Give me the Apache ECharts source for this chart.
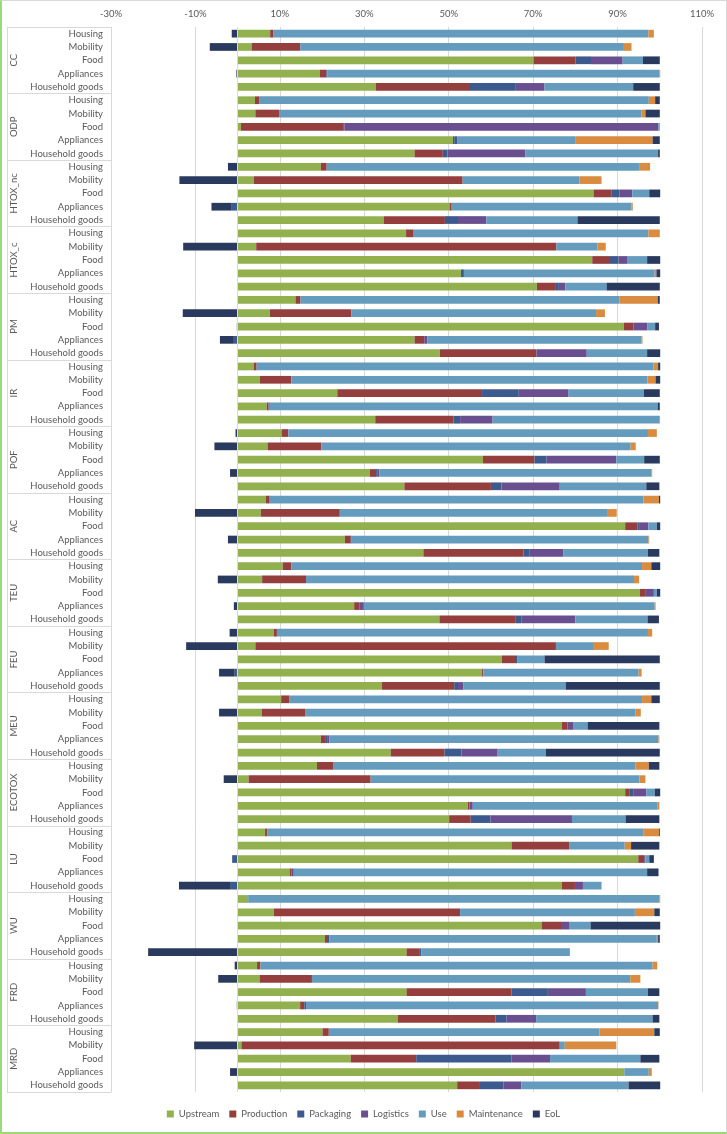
<!DOCTYPE html>
<html>
<head>
<meta charset="utf-8">
<script src="https://cdn.jsdelivr.net/npm/echarts@6/dist/echarts.min.js"></script>
<style>
html,body{margin:0;padding:0;background:#fff;}
#wrap{position:relative;width:727px;height:1134px;}
#chart{position:absolute;left:0;top:0;width:727px;height:1134px;}
#frame{position:absolute;left:0;top:0;width:727px;height:1134px;box-sizing:border-box;
  border-top:1px solid #D9D9D9;border-right:1px solid #D9D9D9;
  border-left:2px solid #9ADB78;border-bottom:2px solid #9ADB78;pointer-events:none;}
</style>
</head>
<body>
<div id="wrap"><div id="chart"></div><div id="frame"></div></div>
<script>
const groups = ['CC','ODP','HTOX_nc','HTOX_c','PM','IR','POF','AC','TEU','FEU','MEU','ECOTOX','LU','WU','FRD','MRD'];
const subcats = ['Housing','Mobility','Food','Appliances','Household goods'];
const seriesNames = ['Upstream','Production','Packaging','Logistics','Use','Maintenance','EoL'];
const xTicks = {min:-30, max:110, step:20};

// values in %, per group: Housing, Mobility, Food, Appliances, Household goods
const upstream = [
  7.7, 3.3, 70.1, 19.5, 32.7,
  4.1, 4.2, 0.8, 51.0, 41.9,
  19.7, 3.8, 84.3, 50.2, 34.6,
  39.9, 4.4, 84.0, 52.9, 70.9,
  13.7, 7.6, 91.5, 41.9, 47.9,
  3.8, 5.3, 23.6, 6.9, 32.6,
  10.4, 7.1, 58.1, 31.3, 39.5,
  6.7, 5.5, 91.8, 25.4, 44.0,
  10.7, 5.8, 95.3, 27.6, 47.8,
  8.6, 4.2, 62.6, 57.9, 34.2,
  10.3, 5.7, 76.8, 19.7, 36.3,
  18.8, 2.6, 91.8, 54.5, 50.1,
  6.5, 64.9, 94.9, 12.3, 76.8,
  2.4, 8.6, 72.0, 20.7, 40.0,
  4.6, 5.2, 40.0, 14.8, 37.9,
  20.1, 0.9, 26.8, 91.6, 52.0
];
const production = [
  0.8, 11.5, 9.9, 1.5, 22.1,
  1.1, 5.6, 24.2, 0.3, 6.7,
  1.4, 49.5, 4.2, 0.5, 14.5,
  1.8, 71.1, 4.2, 0, 4.3,
  1.2, 19.3, 2.3, 2.3, 22.9,
  0.7, 7.4, 34.3, 0.4, 18.5,
  1.6, 12.7, 12.2, 1.5, 20.5,
  0.9, 18.7, 2.9, 1.4, 23.7,
  2.0, 10.4, 1.4, 1.2, 18.1,
  0.7, 71.2, 3.1, 0.3, 17.1,
  2.0, 10.4, 1.3, 1.2, 12.7,
  3.8, 28.9, 1.1, 0.4, 5.1,
  0.5, 13.6, 1.4, 0.5, 3.1,
  0.1, 44.1, 4.6, 0.7, 3.0,
  0.8, 12.4, 24.9, 1.0, 23.2,
  1.5, 75.4, 15.5, 0, 5.4
];
const packaging = [
  0, 0, 3.7, 0.2, 11.1,
  0, 0, 0.3, 0.8, 1.1,
  0, 0, 2.0, -1.4, 3.1,
  0, 0, 2.0, 0.7, 0.9,
  0, 0, -0.2, -0.9, 0,
  0, 0, 8.7, 0, 1.6,
  0, 0, 2.9, 0.4, 2.5,
  0, 0, 0.4, 0.2, 1.5,
  0, 0, 0, 0, 1.4,
  0, 0, 0.5, -0.7, 0.9,
  0, 0, 0, 0.3, 4.0,
  0, 0, 0.8, 0, 4.7,
  0, 0, -1.3, 0, -1.8,
  0, 0, 0, 0.3, 0.5,
  0, 0, 8.4, 0.4, 2.6,
  0, 0, 22.6, 0, 5.6
];
const logistics = [
  0, 0, 7.5, 0, 6.8,
  0, 0, 74.3, 0, 18.5,
  0, 0, 3.0, 0, 6.7,
  0, 0, 2.2, 0, 1.5,
  0, 0, 3.3, 0.7, 11.9,
  0, 0, 11.8, 0.3, 7.7,
  0, 0, 16.5, 0.4, 13.8,
  0, 0, 2.2, 0, 8.0,
  0, 0, 1.9, 1.1, 12.7,
  0, 0, 0, 0, 1.3,
  0, 0, 1.5, 0.5, 8.6,
  0, 0, 3.1, 0.8, 19.3,
  0, 0, 0.3, 0.5, 1.9,
  0, 0, 1.9, 0, 0,
  0, 0, 9.2, 0, 7.0,
  0, 0, 9.1, 0, 4.2
];
const use = [
  88.8, 76.7, 4.8, 78.7, 21.0,
  92.2, 85.8, 0.4, 28.0, 31.4,
  74.0, 27.7, 4.0, 42.6, 21.6,
  55.6, 9.7, 4.6, 45.2, 9.8,
  75.5, 58.0, 1.8, 50.8, 14.3,
  94.0, 84.4, 17.8, 91.9, 39.6,
  85.2, 73.3, 6.6, 64.4, 20.5,
  88.5, 63.5, 2.0, 70.3, 20.0,
  83.1, 77.7, 0.7, 68.9, 17.1,
  87.9, 9.0, 6.5, 36.8, 24.2,
  83.5, 78.1, 3.3, 78.0, 11.4,
  71.6, 63.7, 2.0, 43.8, 12.7,
  89.2, 13.2, 0.9, 83.7, 4.4,
  97.4, 41.4, 5.1, 77.6, 35.2,
  92.9, 75.4, 14.7, 83.4, 27.6,
  64.1, 1.2, 21.4, 5.8, 25.4
];
const maintenance = [
  1.3, 1.8, 0, 0.2, 0,
  1.5, 1.0, 0, 18.2, 0,
  2.6, 5.2, 0, 0.3, 0,
  2.7, 2.0, 0, 0.4, 0,
  9.1, 2.1, 0, 0.2, 0,
  1.1, 1.9, 0, 0, 0,
  2.1, 1.2, 0, 0.2, 0,
  3.7, 2.1, 0, 0.2, 0,
  2.2, 1.2, 0, 0.2, 0,
  1.0, 3.5, 0, 0.7, 0,
  2.2, 1.3, 0, 0.2, 0,
  3.2, 1.4, 0, 0.4, 0,
  3.6, 1.5, 0, 0, 0,
  0.2, 4.6, 0, 0.3, 0,
  1.1, 2.4, 0, 0.1, 0,
  13.0, 12.2, 0, 0.7, 0
];
const eol = [
  -1.4, -6.6, 4.0, -0.3, 6.3,
  1.1, 3.4, 0, 1.7, 0.4,
  -2.3, -13.8, 2.6, -4.8, 19.5,
  0, -12.9, 3.1, 0.9, 12.6,
  0.5, -13.0, 0.9, -3.3, 3.1,
  0.5, 1.1, 3.8, 0.5, 0,
  -0.5, -5.5, 3.7, -1.8, 3.1,
  0.3, -10.1, 0.8, -2.3, 2.7,
  2.1, -4.7, 0.8, -0.9, 2.7,
  -1.9, -12.2, 27.3, -3.7, 22.3,
  2.0, -4.4, 17.0, 0, 27.0,
  2.5, -3.3, 1.3, 0, 8.0,
  0.2, 6.7, 1.1, 2.7, -12.1,
  0, 1.3, 16.5, 0.4, -21.2,
  -0.7, -4.6, 2.7, -0.2, 1.6,
  1.3, -10.3, 4.5, -1.8, 7.5
];

const colors = ['#93B04F','#943F3E','#3C5A8E','#694F90','#659CBE','#D98B3F','#2A3A5E'];
const seriesValues = [upstream, production, packaging, logistics, use, maintenance, eol];

const FONT = "Lato, 'Liberation Sans', sans-serif";
const FS = 9.5;
const TXT = '#595959';
const GRIDC = '#D9D9D9';

const rowKeys = [];
groups.forEach(g => subcats.forEach(s => rowKeys.push(g + '|' + s)));

const chart = echarts.init(document.getElementById('chart'), null, {renderer:'canvas'});

const series = seriesNames.map((name, i) => {
  const s = {
    name, type:'bar', stack:'total', yAxisIndex:0, xAxisIndex:0,
    barCategoryGap:'42%',
    itemStyle:{color:colors[i]},
    emphasis:{disabled:true},
    data: seriesValues[i]
  };
  if (i === 0) {
    s.markLine = {
      silent:true, symbol:'none', label:{show:false},
      lineStyle:{color:GRIDC, type:'solid', width:1},
      emphasis:{disabled:true},
      data:[{xAxis:0}]
    };
  }
  return s;
});

chart.setOption({
  animation:false,
  backgroundColor:'#fff',
  textStyle:{fontFamily:FONT},
  color:colors,
  grid:{left:111, right:25, top:27, bottom:42, containLabel:false},
  xAxis:{
    type:'value', position:'top',
    min:xTicks.min, max:xTicks.max, interval:xTicks.step,
    axisLine:{show:false}, axisTick:{show:false},
    axisLabel:{formatter:'{value}%', color:TXT, fontSize:FS, fontFamily:FONT, margin:8},
    splitLine:{show:true, lineStyle:{color:GRIDC, width:1}}
  },
  yAxis:[
    {
      type:'category', data:rowKeys, inverse:true, position:'left',
      axisLine:{show:true, onZero:false, lineStyle:{color:GRIDC}},
      axisTick:{show:false},
      axisLabel:{color:TXT, fontSize:FS, fontFamily:FONT, margin:8, interval:0,
        formatter:v => v.split('|')[1]}
    },
    {
      type:'category', data:groups, inverse:true, position:'left',
      axisLine:{show:false, onZero:false},
      axisTick:{show:true, length:104, lineStyle:{color:GRIDC}},
      axisLabel:{color:TXT, fontSize:FS, fontFamily:FONT, rotate:90, margin:92, interval:0}
    },
    {
      type:'category', data:groups, inverse:true, position:'left', offset:104,
      axisLine:{show:true, onZero:false, lineStyle:{color:GRIDC}},
      axisTick:{show:false}, axisLabel:{show:false}
    }
  ],
  legend:{
    bottom:10, left:'center', icon:'rect', itemWidth:7, itemHeight:7, itemGap:10,
    textStyle:{color:TXT, fontSize:FS, fontFamily:FONT},
    data:seriesNames
  },
  series
});
</script>
</body>
</html>
